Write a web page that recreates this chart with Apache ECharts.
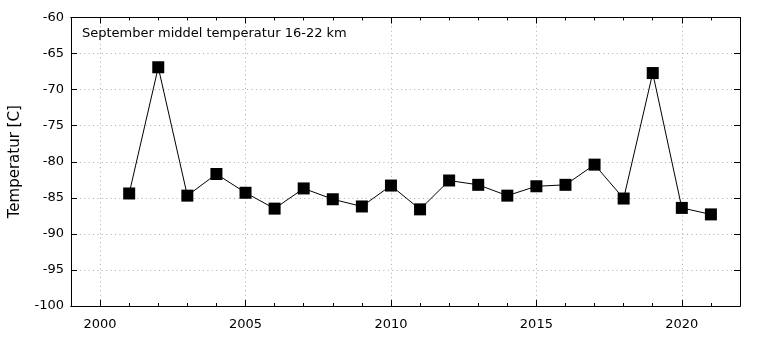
<!DOCTYPE html>
<html>
<head>
<meta charset="utf-8">
<script src="https://cdn.jsdelivr.net/npm/echarts@6/dist/echarts.min.js"></script>
<style>
  html, body { margin: 0; padding: 0; background: #fff; }
  #chart { width: 780px; height: 340px; }
</style>
</head>
<body>
<div id="chart"></div>
<script>
// Year range of the horizontal axis (categories)
const axisYears = [];
for (let y = 1999; y <= 2022; y++) axisYears.push(String(y));

// Observed years and mean September temperature (16-22 km), degrees C
const years = ['2001','2002','2003','2004','2005','2006','2007','2008','2009','2010','2011',
               '2012','2013','2014','2015','2016','2017','2018','2019','2020','2021'];
const temps = [-84.4, -66.9, -84.7, -81.7, -84.3, -86.5, -83.7, -85.2, -86.2, -83.3, -86.6,
               -82.6, -83.2, -84.7, -83.4, -83.2, -80.4, -85.1, -67.7, -86.4, -87.3];

// Labelled years on the horizontal axis
const majorYears = ['2000', '2005', '2010', '2015', '2020'];

const FONT = 'DejaVu Sans';
const isMajor = (i, v) => majorYears.indexOf(String(v)) >= 0;
const gridDots = { color: '#aaaaaa', width: 1, type: [1, 3.4] };

function xAxisBase(position, tickLen, onlyMajor, withLabels, withSplit) {
  return {
    type: 'category',
    data: axisYears,
    boundaryGap: false,
    position: position,
    axisLine: { show: true, onZero: false, lineStyle: { color: '#000', width: 1 } },
    axisTick: {
      show: true, inside: true, length: tickLen,
      interval: onlyMajor ? isMajor : 0,
      lineStyle: { color: '#000', width: 1 }
    },
    axisLabel: {
      show: withLabels, interval: isMajor, margin: 12,
      color: '#000', fontSize: 13, fontFamily: FONT
    },
    splitLine: { show: withSplit, interval: isMajor, lineStyle: gridDots }
  };
}

const chart = echarts.init(document.getElementById('chart'), null, { renderer: 'canvas' });
chart.setOption({
  animation: false,
  backgroundColor: '#fff',
  title: {
    text: 'September middel temperatur 16-22 km',
    left: 77, top: 22,
    textStyle: { fontFamily: FONT, fontSize: 13, fontWeight: 'normal', color: '#000' }
  },
  grid: { left: 69, right: 40, top: 17.5, bottom: 34, containLabel: false },
  xAxis: [
    xAxisBase('bottom', 3, false, true, true),
    xAxisBase('bottom', 6, true, false, false),
    xAxisBase('top', 3, false, false, false),
    xAxisBase('top', 6, true, false, false)
  ],
  yAxis: [
    {
      type: 'value', min: -100, max: -60, interval: 5, position: 'left',
      name: 'Temperatur [C]', nameLocation: 'middle', nameGap: 48,
      nameTextStyle: { fontFamily: FONT, fontSize: 15, color: '#000' },
      axisLine: { show: true, lineStyle: { color: '#000', width: 1 } },
      axisTick: { show: true, inside: true, length: 6, lineStyle: { color: '#000' } },
      axisLabel: { color: '#000', fontSize: 13, fontFamily: FONT, margin: 7 },
      splitLine: { show: true, lineStyle: gridDots }
    },
    {
      type: 'value', min: -100, max: -60, interval: 5, position: 'right',
      axisLine: { show: true, lineStyle: { color: '#000', width: 1 } },
      axisTick: { show: true, inside: true, length: 6, lineStyle: { color: '#000' } },
      axisLabel: { show: false },
      splitLine: { show: false }
    }
  ],
  series: [{
    type: 'line',
    xAxisIndex: 0, yAxisIndex: 0,
    data: years.map((y, i) => [y, temps[i]]),
    symbol: 'rect', symbolSize: 12,
    itemStyle: { color: '#000' },
    lineStyle: { color: '#000', width: 1 }
  }]
});
</script>
</body>
</html>
